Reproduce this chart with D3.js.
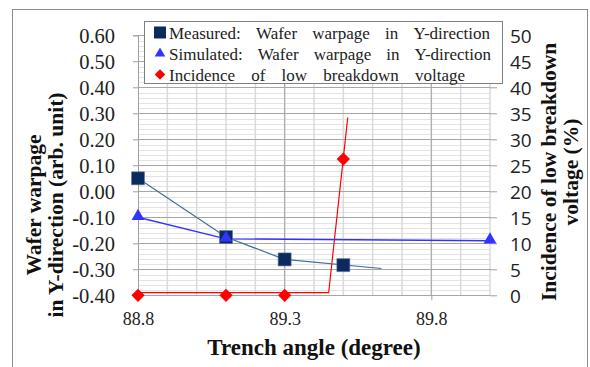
<!DOCTYPE html>
<html>
<head>
<meta charset="utf-8">
<script src="https://cdn.jsdelivr.net/npm/d3@7"></script>
<style>
  body { margin: 0; background: #fff; }
  svg { display: block; }
</style>
</head>
<body>
<div id="graf"></div>
<script>
// Datos
const angulos = [88.8, 89.1, 89.3, 89.5]
const medido = [0.05, -0.176, -0.262, -0.284]
const angulosSim = [88.8, 89.1, 90.0]
const simulado = [-0.10, -0.183, -0.19]
const incidencia = [0, 0, 0, 26.2]

// Líneas dibujadas (tendencias)
const lineaMedidoX = [88.8, 89.1, 89.3, 89.63]
const lineaMedidoY = [0.05, -0.176, -0.262, -0.297]
const lineaIncidX = [88.8, 89.45, 89.515]
const lineaIncidY = [0.5, 0.5, 34.2]

// Etiquetas de ejes
const ticksX = [88.8, 89.3, 89.8]
const ticksIzq = [0.6, 0.5, 0.4, 0.3, 0.2, 0.1, 0, -0.1, -0.2, -0.3, -0.4]
const ticksDer = [0, 5, 10, 15, 20, 25, 30, 35, 40, 45, 50]
const leyenda = [
  "Measured: Wafer warpage in Y-direction",
  "Simulated: Wafer warpage in Y-direction",
  "Incidence of low breakdown voltage",
]

const SERIF = "'Liberation Serif', 'Times New Roman', serif"
const SANS = "'Open Sans', 'Noto Sans', sans-serif"

// Dimensiones
const anchoTotal = 590
const altoTotal = 367
const plot = { left: 138, right: 490, top: 35.3, bottom: 295.3 }

const svg = d3
  .select("#graf")
  .append("svg")
  .attr("width", anchoTotal)
  .attr("height", altoTotal)

// Marco exterior
svg
  .append("rect")
  .attr("x", 12.5)
  .attr("y", 9.5)
  .attr("width", 575)
  .attr("height", 380)
  .attr("fill", "white")
  .attr("stroke", "#8c8c8c")

// Escaladores
const x = d3.scaleLinear().domain([88.8, 90.0]).range([plot.left, plot.right])
const y = d3.scaleLinear().domain([-0.4, 0.6]).range([plot.bottom, plot.top])
const y2 = d3.scaleLinear().domain([0, 50]).range([plot.bottom, plot.top])

// Rejilla
const grid = svg.append("g")
grid
  .selectAll("line.hmin")
  .data(d3.range(-0.4, 0.6001, 0.02))
  .join("line")
  .attr("x1", plot.left)
  .attr("x2", plot.right)
  .attr("y1", (d) => Math.round(y(d)) + 0.5)
  .attr("y2", (d) => Math.round(y(d)) + 0.5)
  .attr("stroke", "#e3e3e3")
grid
  .selectAll("line.vmin")
  .data(d3.range(88.9, 90.0001, 0.1))
  .join("line")
  .attr("x1", (d) => x(d))
  .attr("x2", (d) => x(d))
  .attr("y1", plot.top)
  .attr("y2", plot.bottom)
  .attr("stroke", "#dadada")
  .attr("stroke-width", 1.5)
const gridMaj = svg.append("g")
gridMaj
  .selectAll("line")
  .data(ticksIzq)
  .join("line")
  .attr("x1", plot.left)
  .attr("x2", plot.right)
  .attr("y1", (d) => Math.round(y(d)) + 0.5)
  .attr("y2", (d) => Math.round(y(d)) + 0.5)
  .attr("stroke", "#a6a6a6")
gridMaj
  .selectAll("line.v")
  .data(ticksX.slice(1))
  .join("line")
  .attr("x1", (d) => x(d))
  .attr("x2", (d) => x(d))
  .attr("y1", plot.top)
  .attr("y2", plot.bottom)
  .attr("stroke", "#a6a6a6")

// Ejes
const yAxis = d3
  .axisLeft(y)
  .tickValues(ticksIzq)
  .tickFormat((d) => d.toFixed(2))
  .tickSize(5)
  .tickPadding(18)
const yAxisGroup = svg
  .append("g")
  .attr("transform", `translate(${plot.left}, 0)`)
  .call(yAxis)
yAxisGroup
  .selectAll("text")
  .style("font-family", SERIF)
  .attr("font-size", 20.5)
  .attr("dy", "0.37em")
  .attr("fill", "#222")

const xAxis = d3
  .axisBottom(x)
  .tickValues(ticksX)
  .tickFormat((d) => d.toFixed(1))
  .tickSize(5)
  .tickPadding(12)
const xAxisGroup = svg
  .append("g")
  .attr("transform", `translate(0, ${plot.bottom})`)
  .call(xAxis)
xAxisGroup
  .selectAll("text")
  .style("font-family", SERIF)
  .attr("font-size", 18)
  .attr("fill", "#222")

const y2Axis = d3.axisRight(y2).tickValues(ticksDer).tickSize(7).tickPadding(13)
const y2AxisGroup = svg
  .append("g")
  .attr("transform", `translate(${plot.right}, 0)`)
  .call(y2Axis)
y2AxisGroup
  .selectAll("text")
  .style("font-family", SANS)
  .attr("font-size", 19)
  .attr("dy", "0.36em")
  .attr("fill", "#222")

svg.selectAll(".domain, .tick line").attr("stroke", "#a0a0a0")
y2AxisGroup.select(".domain").remove()
xAxisGroup.select(".domain").remove()

// Líneas
const linea = d3
  .line()
  .x((d) => x(d[0]))
  .y((d) => d[1])

svg
  .append("path")
  .attr("d", linea(lineaIncidX.map((v, i) => [v, y2(lineaIncidY[i])])))
  .attr("fill", "none")
  .attr("stroke", "#ff0000")
  .attr("stroke-width", 1.2)

svg
  .append("path")
  .attr("d", linea(angulosSim.map((v, i) => [v, y(simulado[i])])))
  .attr("fill", "none")
  .attr("stroke", "#3333ff")
  .attr("stroke-width", 1.4)

svg
  .append("path")
  .attr("d", linea(lineaMedidoX.map((v, i) => [v, y(lineaMedidoY[i])])))
  .attr("fill", "none")
  .attr("stroke", "#3e6f9e")
  .attr("stroke-width", 1.2)

// Marcadores
const cuadrado = d3.symbol().type(d3.symbolSquare)
const triangulo = d3.symbol().type(d3.symbolTriangle)

svg
  .append("g")
  .selectAll("path")
  .data(angulos)
  .join("path")
  .attr("d", cuadrado.size(169)())
  .attr("transform", (d, i) => `translate(${x(d)}, ${y(medido[i])})`)
  .attr("fill", "#0c2a5e")
  .attr("stroke", "#5a78a6")
  .attr("stroke-width", 0.6)

svg
  .append("g")
  .selectAll("path")
  .data(angulosSim)
  .join("path")
  .attr("d", triangulo.size(72)())
  .attr("transform", (d, i) => `translate(${x(d)}, ${y(simulado[i]) - 1})`)
  .attr("fill", "#3333ff")

svg
  .append("g")
  .selectAll("path")
  .data(angulos)
  .join("path")
  .attr("d", cuadrado.size(88)())
  .attr("transform", (d, i) => `translate(${x(d)}, ${y2(incidencia[i])}) rotate(45)`)
  .attr("fill", "#ff0000")

// Leyenda
const leg = svg.append("g")
leg
  .append("rect")
  .attr("x", 144.5)
  .attr("y", 21.5)
  .attr("width", 358)
  .attr("height", 62)
  .attr("fill", "white")
  .attr("stroke", "#808080")

const legMarcas = [
  { d: cuadrado.size(144)(), fill: "#0c2a5e", rot: 0 },
  { d: triangulo.size(48)(), fill: "#3333ff", rot: 0 },
  { d: cuadrado.size(56)(), fill: "#ff0000", rot: 45 },
]
const legFinal = [490, 491, 465]
leyenda.forEach((t, i) => {
  const cy = 32.5 + i * 21
  leg
    .append("path")
    .attr("d", legMarcas[i].d)
    .attr("transform", `translate(160, ${cy}) rotate(${legMarcas[i].rot})`)
    .attr("fill", legMarcas[i].fill)
  const palabras = t.split(" ")
  const nodos = palabras.map((p) =>
    leg
      .append("text")
      .style("font-family", SERIF)
      .attr("font-size", 17)
      .attr("fill", "#222")
      .attr("y", cy + 6)
      .text(p)
  )
  // justificado como en el original
  const anchos = nodos.map((n) => n.node().getComputedTextLength())
  const hueco = (legFinal[i] - 169 - d3.sum(anchos)) / (palabras.length - 1)
  let px = 169
  nodos.forEach((n, j) => {
    n.attr("x", px)
    px += anchos[j] + hueco
  })
})

// Títulos
const tituloIzq = svg
  .append("text")
  .style("font-family", SERIF)
  .attr("font-size", 21.5)
  .attr("font-weight", "bold")
  .attr("text-anchor", "middle")
  .attr("fill", "#111")
  .attr("transform", "translate(41, 205) rotate(-90)")
tituloIzq.append("tspan").attr("x", 0).attr("y", 0).text("Wafer warpage")
tituloIzq.append("tspan").attr("x", 0).attr("y", 21.5).text("in Y-direction (arb. unit)")

const tituloDer = svg
  .append("text")
  .style("font-family", SERIF)
  .attr("font-size", 21.5)
  .attr("font-weight", "bold")
  .attr("text-anchor", "middle")
  .attr("fill", "#111")
  .attr("transform", "translate(556, 172) rotate(-90)")
tituloDer.append("tspan").attr("x", 0).attr("y", 0).text("Incidence of low breakdown")
tituloDer.append("tspan").attr("x", 0).attr("y", 21.5).text("voltage (%)")

svg
  .append("text")
  .style("font-family", SERIF)
  .attr("font-size", 23)
  .attr("font-weight", "bold")
  .attr("text-anchor", "middle")
  .attr("fill", "#111")
  .attr("x", 314)
  .attr("y", 355)
  .text("Trench angle (degree)")
</script>
</body>
</html>
